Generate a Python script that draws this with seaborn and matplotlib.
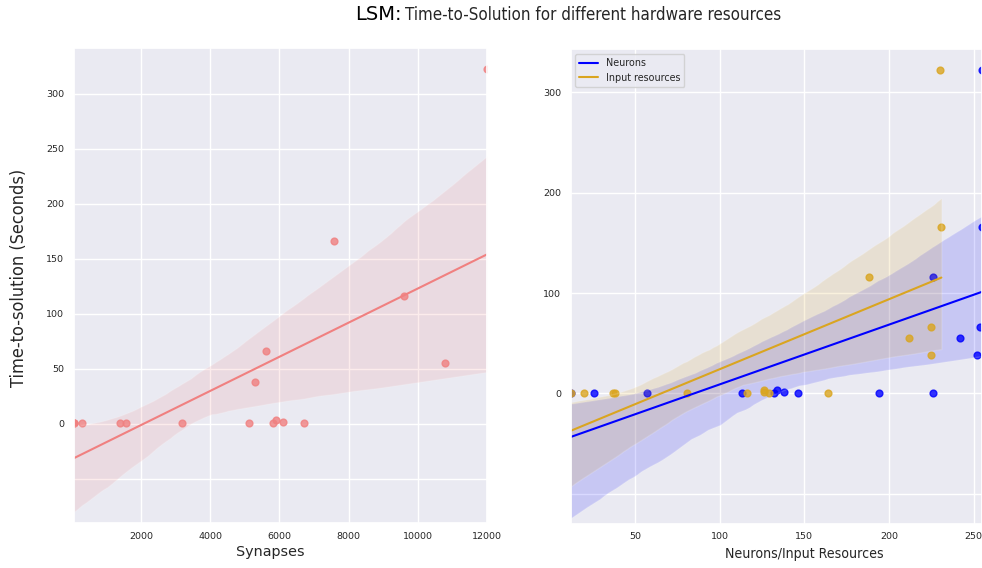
import matplotlib
matplotlib.use("Agg")
import matplotlib.pyplot as plt
from matplotlib.ticker import FuncFormatter, FixedLocator
import pandas as pd
import seaborn as sns

# Synapse sweep: synapse count and measured time-to-solution (s)
syn_count = [64, 64, 64, 300, 1400, 1580, 3190, 5110, 5300, 5600, 5810,
             5910, 6110, 6720, 7580, 9590, 10780, 12000]
syn_time = [0.5, 0.5, 0.5, 0.5, 0.5, 0.5, 0.5, 0.6, 38.5, 66.4, 0.6, 3.3,
            1.8, 0.6, 166.0, 116.4, 55.5, 322.7]

# Resource sweep: neurons / input resources and time-to-solution (s)
res_time = [0.5, 0.5, 0.5, 0.5, 0.5, 0.6, 38.5, 66.4, 0.6, 3.3, 1.8, 0.6,
            166.0, 116.4, 55.5, 322.7]
neurons = [12, 26, 57, 113.5, 132, 146, 252.2, 253.8, 194, 134, 138, 226,
           255, 226, 242, 255]
input_res = [12, 20, 37, 38, 81, 116, 225, 225, 129, 126, 126, 164, 231,
             188, 212, 230]

syn_xticks = [2000, 4000, 6000, 8000, 10000, 12000]
syn_yticks = [-50, 0, 50, 100, 150, 200, 250, 300]
res_xticks = [50, 100, 150, 200, 250]
res_yticks = [-100, 0, 100, 200, 300]

syn_df = pd.DataFrame({"synapses": syn_count, "time": syn_time})
res_df = pd.DataFrame({"neurons": neurons, "inputs": input_res,
                       "time": res_time})

sns.set_theme(style="darkgrid")
plt.rcParams["font.family"] = ["DejaVu Sans"]

W, H = 982, 568
fig = plt.figure(figsize=(W / 100, H / 100), dpi=100)
ax_syn = fig.add_axes([74 / W, 44.7 / H, 413 / W, 475 / H])
ax_res = fig.add_axes([570.7 / W, 44.0 / H, 411.3 / W, 474.7 / H])

pt_kws = {"s": 24}
sns.regplot(data=syn_df, x="synapses", y="time", ax=ax_syn,
            color="lightcoral", seed=0, scatter_kws=pt_kws,
            line_kws={"linewidth": 1.5})
sns.regplot(data=res_df, x="neurons", y="time", ax=ax_res, color="blue",
            seed=0, scatter_kws=pt_kws,
            line_kws={"linewidth": 1.5, "label": "Neurons"})
sns.regplot(data=res_df, x="inputs", y="time", ax=ax_res, color="goldenrod",
            seed=0, scatter_kws=pt_kws,
            line_kws={"linewidth": 1.5, "label": "Input resources"})

ax_syn.set_xlim(min(syn_count), max(syn_count))
ax_res.set_xlim(min(neurons + input_res), max(neurons + input_res))
ax_syn.set_ylim(-90.3, 341.5)
ax_res.set_ylim(-130.3, 343.0)

# negative ticks keep their grid line but get no label
nonneg = FuncFormatter(lambda v, p: "" if v < 0 else f"{v:g}")
for ax, xt, yt in ((ax_syn, syn_xticks, syn_yticks),
                   (ax_res, res_xticks, res_yticks)):
    ax.xaxis.set_major_locator(FixedLocator(xt))
    ax.yaxis.set_major_locator(FixedLocator(yt))
    ax.yaxis.set_major_formatter(nonneg)
    ax.tick_params(axis="both", labelsize=6.8, length=0, colors=".15")
    ax.tick_params(axis="x", pad=6)
    ax.tick_params(axis="y", pad=7)
    ax.set_ylabel("")

ax_syn.set_xlabel("Synapses", fontsize=10.4, va="center")
ax_syn.xaxis.set_label_coords(0.476, -0.0594)
ax_res.set_xlabel("Neurons/Input Resources", fontsize=10.1,
                  fontstretch="condensed", va="center")
ax_res.xaxis.set_label_coords(0.567, -0.064)

ax_res.legend(loc="upper left", fontsize=6.9)

fig.text(19 / W, 1 - 278 / H, "Time-to-solution (Seconds)", rotation=90,
         ha="center", va="center", fontsize=13, fontstretch="condensed",
         color=".15")
fig.text(355 / W, 1 - 20 / H, "LSM:", fontsize=14, ha="left",
         va="baseline", color="black")
fig.text(405 / W, 1 - 20 / H,
         "Time-to-Solution for different hardware resources", fontsize=12.15,
         fontstretch="condensed", ha="left", va="baseline", color=".15")

fig.savefig("out.png", dpi=100)
